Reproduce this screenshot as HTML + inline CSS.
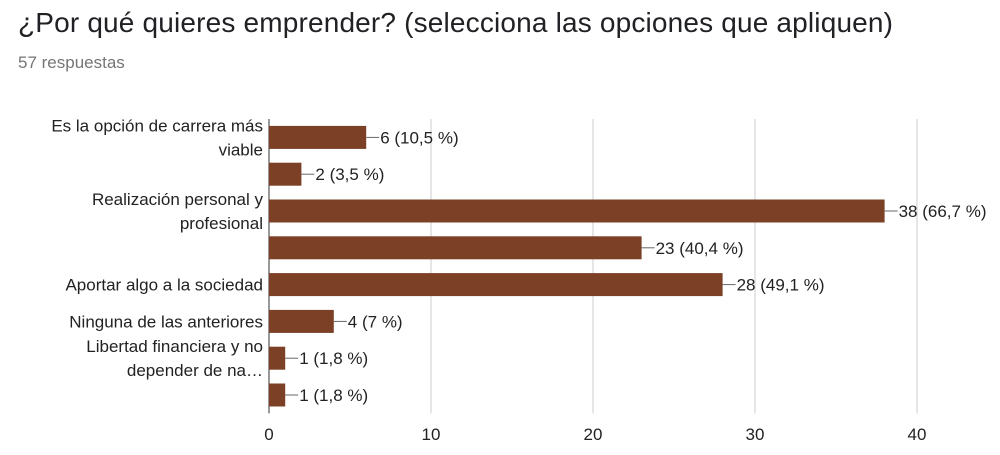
<!DOCTYPE html>
<html><head><meta charset="utf-8"><style>
body{margin:0;background:#fff;font-family:"Liberation Sans",Arial,sans-serif;}
svg{display:block}
</style></head><body>
<svg id="c" width="1000" height="455" xmlns="http://www.w3.org/2000/svg">
<text x="18" y="32" font-size="28" fill="#202124" textLength="875">¿Por qué quieres emprender? (selecciona las opciones que apliquen)</text>
<text x="18" y="68" font-size="17" fill="#757575">57 respuestas</text>
<g id="grid"></g><g id="bars"></g><g id="labels"></g>
</svg>
<script>
const categories=[["Es la opción de carrera más","viable"],[""],["Realización personal y","profesional"],[""],["Aportar algo a la sociedad"],["Ninguna de las anteriores"],["Libertad financiera y no","depender de na…"],[""]];
const values=[6,2,38,23,28,4,1,1];
const valueLabels=["6 (10,5 %)","2 (3,5 %)","38 (66,7 %)","23 (40,4 %)","28 (49,1 %)","4 (7 %)","1 (1,8 %)","1 (1,8 %)"];
const ticks=[0,10,20,30,40];
const NS="http://www.w3.org/2000/svg";
const x0=269,x1=917,plotTop=119,rowH=36.8,barH=23;
const xs=v=>x0+(x1-x0)*v/40;
const yc=i=>plotTop+rowH*(i+0.5);
function mk(tag,attrs,parent){const e=document.createElementNS(NS,tag);for(const k in attrs)e.setAttribute(k,attrs[k]);document.getElementById(parent).appendChild(e);return e;}
ticks.forEach(t=>{
  const l=mk("line",{x1:xs(t),x2:xs(t),y1:plotTop,y2:plotTop+rowH*8,stroke:t===0?"#333":"#ccc","stroke-width":1},"grid");
  
  
  const tx=mk("text",{x:xs(t),y:440,"font-size":17,fill:"#222","text-anchor":"middle"},"grid");
  tx.textContent=t;
  
  
});
values.forEach((v,i)=>{
  const r=mk("rect",{x:x0,y:yc(i)-barH/2,width:xs(v)-x0,height:barH,fill:"#7b4026"},"bars");
  
  
  const ln=mk("line",{x1:xs(v),x2:xs(v)+13,y1:yc(i),y2:yc(i),stroke:"#666","stroke-width":1},"labels");
  
  
  const t=mk("text",{x:xs(v)+14,y:yc(i)+6,"font-size":17,fill:"#222"},"labels");
  t.textContent=valueLabels[i];
  
  
  const lines=categories[i];
  lines.forEach((s,k)=>{
    if(!s)return;
    const off=lines.length===2?(k===0?-12:12):0;
    const c=mk("text",{x:263,y:yc(i)+off+6,"font-size":17,fill:"#222","text-anchor":"end"},"labels");
    c.textContent=s;
    
    
  });
});
</script>
</body></html>
